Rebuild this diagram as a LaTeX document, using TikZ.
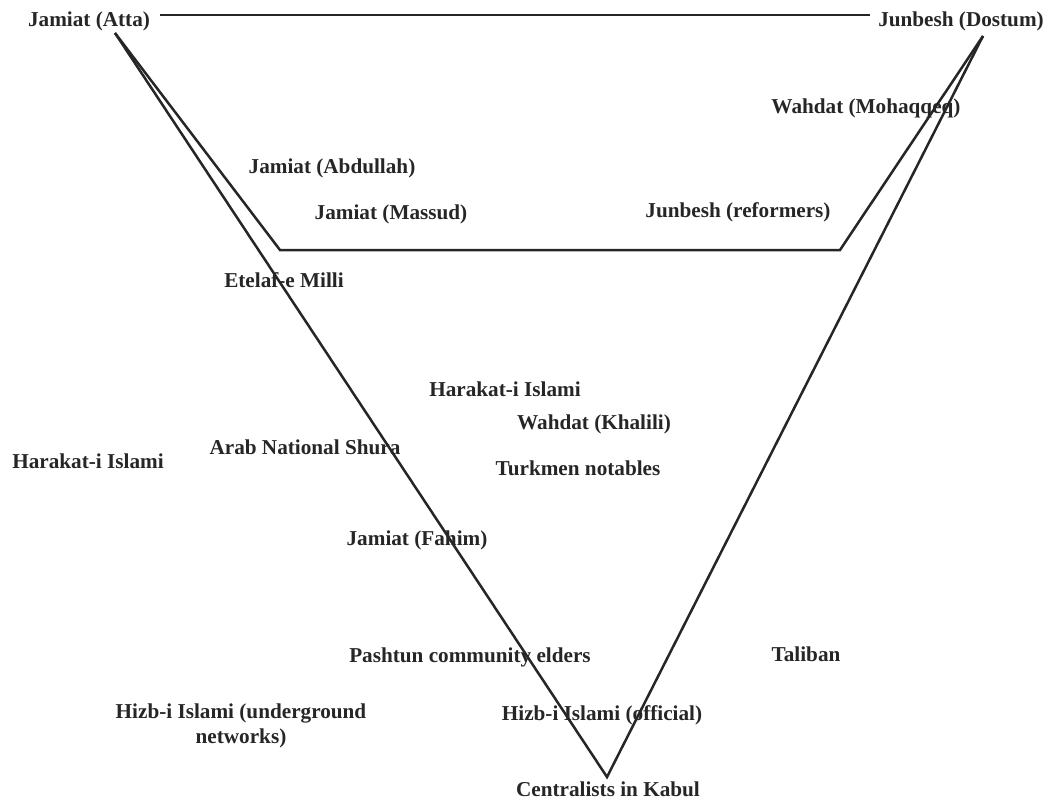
\documentclass[tikz,border=0pt]{standalone}
\usepackage{fontspec}
\setmainfont{Liberation Serif}
\begin{document}
\begin{tikzpicture}[x=1pt,y=-1pt,
  lbl/.style={font=\fontsize{21.2}{25.5}\selectfont\bfseries, inner sep=0pt, align=center, text=black!85},
  edge/.style={line width=2.5pt, black!85}]
\useasboundingbox (0,0) rectangle (1045,803);
% labels
\node[lbl] (atta) at (89,21) {Jamiat (Atta)};
\node[lbl] (dostum) at (961,21) {Junbesh (Dostum)};
\node[lbl] (mohaqqeq) at (866,108) {Wahdat (Mohaqqeq)};
\node[lbl] (abdullah) at (332,168) {Jamiat (Abdullah)};
\node[lbl] (massud) at (391,214) {Jamiat (Massud)};
\node[lbl] (reformers) at (738,212) {Junbesh (reformers)};
\node[lbl] (etelaf) at (284,280) {Etelaf-e Milli};
\node[lbl] (harakatmid) at (505,389) {Harakat-i Islami};
\node[lbl] (khalili) at (594,424) {Wahdat (Khalili)};
\node[lbl] (arab) at (305,447) {Arab National Shura};
\node[lbl] (harakatleft) at (88,461) {Harakat-i Islami};
\node[lbl] (turkmen) at (578,468) {Turkmen notables};
\node[lbl] (fahim) at (417,540) {Jamiat (Fahim)};
\node[lbl] (pashtun) at (470,657) {Pashtun community elders};
\node[lbl] (taliban) at (806,654) {Taliban};
\node[lbl] (hizbunder) at (241,726) {Hizb-i Islami (underground\\networks)};
\node[lbl] (hizboff) at (602,715) {Hizb-i Islami (official)};
\node[lbl] (kabul) at (608,789) {Centralists in Kabul};
% corner points
\coordinate (topL) at (160,15);
\coordinate (topR) at (870,15);
\coordinate (attaP) at (115,33);
\coordinate (dostumP) at (983,36);
\coordinate (innerL) at (280,250);
\coordinate (innerR) at (840,250);
\coordinate (apex) at (607,777);
% lines
\draw[edge] (topL) -- (topR);
\draw[edge] (attaP) -- (innerL) -- (innerR) -- (dostumP);
\draw[edge] (attaP) -- (apex) -- (dostumP);
\end{tikzpicture}
\end{document}
